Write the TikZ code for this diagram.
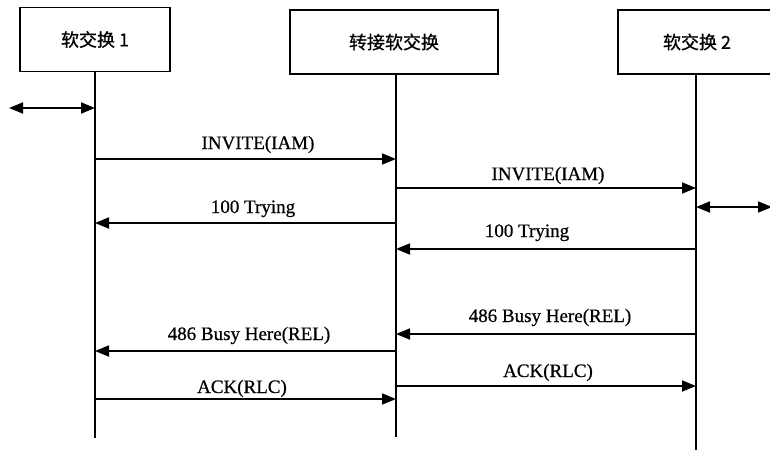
\documentclass[tikz,border=0pt]{standalone}
\usepackage{fontspec}
\setmainfont[BoldFont={Liberation Serif},BoldFeatures={FakeBold=0.6}]{Liberation Serif}
\newfontfamily\cjk[BoldFont={Noto Sans CJK SC},BoldFeatures={FakeBold=0.8}]{Noto Sans CJK SC}
\usetikzlibrary{arrows.meta}
\begin{document}
\begin{tikzpicture}[x=1pt,y=-1pt,
  ent/.style={draw, line width=1.8pt, minimum height=64pt, font=\cjk\bfseries\fontsize{18}{20}\selectfont, inner sep=0pt},
  life/.style={line width=1.4pt},
  tip/.tip={Triangle[length=14pt,width=11pt]},
  msg/.style={line width=1.8pt, -tip},
  bi/.style={line width=1.8pt, tip-tip},
  lbl/.style={font=\bfseries\fontsize{19}{21}\selectfont, inner sep=0pt, anchor=base}]
\useasboundingbox (0,0) rectangle (770,450);
\begin{scope}
\clip (0,0) rectangle (770,450);
\node[ent, minimum width=150pt] (A) at (95,39.5) {软交换 1};
\node[ent, minimum width=208pt] (B) at (394,42) {转接软交换};
\node[ent, minimum width=158pt] (C) at (697,42) {软交换 2};
\end{scope}
% lifeline ends
\coordinate (Aend) at (95,438);
\coordinate (Bend) at (396,437);
\coordinate (Cend) at (696,450);
\draw[life] (A.south -| Aend) -- (Aend);
\draw[life] (B.south -| Bend) -- (Bend);
\draw[life] (C.south -| Cend) -- (Cend);
% external double arrows
\coordinate (L0) at (9,108);
\coordinate (L1) at (95,108);
\draw[bi] (L0) -- (L1);
\coordinate (R0) at (696,207);
\coordinate (R1) at (772,207);
\draw[bi] (R0) -- (R1);
% messages
\coordinate (a1) at (95,159);  \coordinate (b1) at (396,159);
\coordinate (b2) at (396,188); \coordinate (c2) at (696,188);
\coordinate (b3) at (396,223); \coordinate (a3) at (95,223);
\coordinate (c4) at (696,249); \coordinate (b4) at (396,249);
\coordinate (c5) at (696,334); \coordinate (b5) at (396,334);
\coordinate (b6) at (396,351); \coordinate (a6) at (95,351);
\coordinate (b7) at (396,386); \coordinate (c7) at (696,386);
\coordinate (a8) at (95,399);  \coordinate (b8) at (396,399);
\draw[msg] (a1) -- (b1);
\draw[msg] (b2) -- (c2);
\draw[msg] (b3) -- (a3);
\draw[msg] (c4) -- (b4);
\draw[msg] (c5) -- (b5);
\draw[msg] (b6) -- (a6);
\draw[msg] (b7) -- (c7);
\draw[msg] (a8) -- (b8);
\node[lbl] (t1) at (258,149) {INVITE(IAM)};
\node[lbl] (t2) at (548,180) {INVITE(IAM)};
\node[lbl] (t3) at (253,213) {100 Trying};
\node[lbl] (t4) at (527,237) {100 Trying};
\node[lbl] (t5) at (550,322) {486 Busy Here(REL)};
\node[lbl] (t6) at (249,340) {486 Busy Here(REL)};
\node[lbl] (t7) at (548,377) {ACK(RLC)};
\node[lbl] (t8) at (242,393) {ACK(RLC)};
\end{tikzpicture}
\end{document}
